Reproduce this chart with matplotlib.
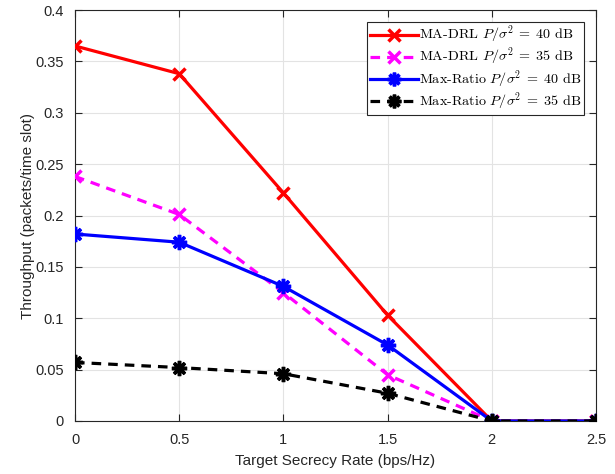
import matplotlib
matplotlib.use("Agg")
import matplotlib.pyplot as plt

x = [0, 0.5, 1, 1.5, 2, 2.5]
madrl_40 = [0.365, 0.338, 0.222, 0.103, 0.0, 0.0]
madrl_35 = [0.238, 0.201, 0.125, 0.045, 0.0, 0.0]
maxratio_40 = [0.182, 0.174, 0.131, 0.074, 0.0, 0.0]
maxratio_35 = [0.057, 0.052, 0.046, 0.027, 0.0, 0.0]

labels = [r"MA-DRL $P/\sigma^2\;=\;40$ dB", r"MA-DRL $P/\sigma^2\;=\;35$ dB",
          r"Max-Ratio $P/\sigma^2\;=\;40$ dB", r"Max-Ratio $P/\sigma^2\;=\;35$ dB"]
xticks = [0, 0.5, 1, 1.5, 2, 2.5]
yticks = [0, 0.05, 0.1, 0.15, 0.2, 0.25, 0.3, 0.35, 0.4]
ytick_labels = ["0", "0.05", "0.1", "0.15", "0.2", "0.25", "0.3", "0.35", "0.4"]
xtick_labels = ["0", "0.5", "1", "1.5", "2", "2.5"]

plt.rcParams['font.family'] = ['Liberation Sans', 'DejaVu Sans']
plt.rcParams['mathtext.fontset'] = 'cm'

fig = plt.figure(figsize=(6.15, 4.74), dpi=100)
ax = fig.add_axes([75/615, 1-421/474, (596-75)/615, (421-10)/474])

lw = 2.3
ax.plot(x, madrl_40, color='red', lw=lw, ls='-', marker='x', ms=9, mew=2.5, label=labels[0], zorder=3)
ax.plot(x, madrl_35, color='magenta', lw=lw, ls=(0, (3, 2.2)), marker='x', ms=9, mew=2.5, label=labels[1], zorder=3)
ax.plot(x, maxratio_40, color='blue', lw=lw, ls='-', marker=(8, 2, 0), ms=11, mew=2.5, label=labels[2], zorder=4)
ax.plot(x, maxratio_35, color='black', lw=lw, ls=(0, (3, 2.2)), marker=(8, 2, 0), ms=11, mew=2.5, label=labels[3], zorder=5)

ax.set_xlim(0, 2.5)
ax.set_ylim(0, 0.4)
ax.set_xticks(xticks)
ax.set_xticklabels(xtick_labels)
ax.set_yticks(yticks)
ax.set_yticklabels(ytick_labels)
ax.grid(True, color='#e3e3e3', lw=0.8)
ax.set_axisbelow(True)
for s in ax.spines.values():
    s.set_color('#262626')
    s.set_linewidth(0.8)
ax.tick_params(direction='in', top=True, right=True, length=5, labelsize=10.5, colors='#262626')
ax.tick_params(axis='x', pad=9)
ax.tick_params(axis='y', pad=8)
ax.set_xlabel("Target Secrecy Rate (bps/Hz)", fontsize=11, color='#262626', labelpad=5)
ax.set_ylabel("Throughput (packets/time slot)", fontsize=11, color='#262626', labelpad=0)

leg = ax.legend(loc='upper right', fancybox=False, edgecolor='#262626',
                framealpha=1, handlelength=3.4, handletextpad=0.1, borderpad=0.15,
                labelspacing=0.0, borderaxespad=0.85, markerscale=0.9,
                prop={'family': ['cmr10', 'DejaVu Serif'], 'size': 10.2})
leg.get_frame().set_linewidth(0.8)

fig.savefig("out.png", dpi=100)
